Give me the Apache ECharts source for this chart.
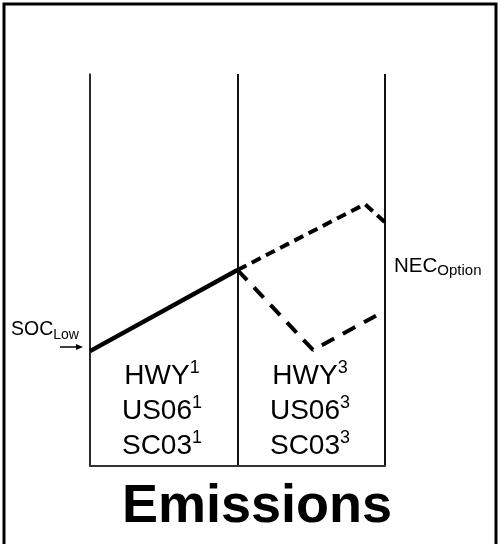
<!DOCTYPE html>
<html>
<head>
<meta charset="utf-8">
<script src="https://cdn.jsdelivr.net/npm/echarts@6/dist/echarts.min.js"></script>
<style>html,body{margin:0;padding:0;background:#fff}#c{width:498px;height:544px}</style>
</head>
<body>
<div id="c"></div>
<script>
// Phase boundaries (x) and SOC trajectories (y, arbitrary SOC units 0..100)
var phaseBounds = [0, 1, 2];
var solidX = [0, 1];
var solidY = [29.3, 50];
var upperX = [1, 1.864, 2];
var upperY = [50, 66.8, 62.2];
var lowerX = [1, 1.512, 1.939];
var lowerY = [50, 29.6, 38.3];
var cycles = ['HWY', 'US06', 'SC03'];
var phaseMarks = ['1', '3'];
var xTitle = 'Emissions';
var startLabel = ['SOC', 'Low'];
var endLabel = ['NEC', 'Option'];

function pairs(xs, ys) { return xs.map(function (x, i) { return [x, ys[i]]; }); }
function blockText(sup) {
  return cycles.map(function (c) { return '{m|' + c + '}{s|' + sup + '}'; }).join('\n');
}
var FONT = '"Liberation Sans", Arial, sans-serif';
var blockRich = {
  m: { fontSize: 28, fontFamily: FONT, lineHeight: 35, fill: '#000' },
  s: { fontSize: 18, fontFamily: FONT, verticalAlign: 'top', fill: '#000' }
};
var startRich = {
  m: { fontSize: 19.5, fontFamily: FONT, lineHeight: 24, fill: '#000' },
  s: { fontSize: 14, fontFamily: FONT, verticalAlign: 'bottom', fill: '#000' }
};
var endRich = {
  m: { fontSize: 20.5, fontFamily: FONT, lineHeight: 24, fill: '#000' },
  s: { fontSize: 15, fontFamily: FONT, verticalAlign: 'bottom', lineHeight: 12, fill: '#000' }
};

var chart = echarts.init(document.getElementById('c'), null, { renderer: 'canvas' });
var option = {
  animation: false,
  backgroundColor: '#fff',
  grid: { left: 90, top: 74, width: 295, height: 392, containLabel: false },
  xAxis: {
    type: 'value', min: phaseBounds[0], max: phaseBounds[2], interval: 1,
    axisLine: { show: true, lineStyle: { color: '#333', width: 2 } },
    axisTick: { show: false }, axisLabel: { show: false },
    splitLine: { show: true, lineStyle: { color: '#111', width: 2 } }
  },
  yAxis: {
    type: 'value', min: 0, max: 100,
    axisLine: { show: true, lineStyle: { color: '#333', width: 1.5 } },
    axisTick: { show: false }, axisLabel: { show: false },
    splitLine: { show: false }
  },
  series: [
    { type: 'line', data: pairs(solidX, solidY), symbol: 'none',
      lineStyle: { color: '#000', width: 4.5 } },
    { type: 'line', data: pairs(upperX, upperY), symbol: 'none',
      lineStyle: { color: '#000', width: 4, type: [10, 6] } },
    { type: 'line', data: pairs(lowerX, lowerY), symbol: 'none',
      lineStyle: { color: '#000', width: 4, type: [14, 10] } }
  ],
  graphic: [
    { type: 'rect', shape: { x: 4, y: 4, width: 492, height: 580 },
      style: { fill: 'none', stroke: '#000', lineWidth: 3 }, silent: true },
    { type: 'text', style: {
        text: blockText(phaseMarks[0]), x: 162, y: 359, align: 'center', verticalAlign: 'top',
        rich: blockRich } },
    { type: 'text', style: {
        text: blockText(phaseMarks[1]), x: 310, y: 359, align: 'center', verticalAlign: 'top',
        rich: blockRich } },
    { type: 'text', style: {
        text: xTitle, x: 257, y: 507, align: 'center', verticalAlign: 'middle',
        font: 'bold 54px ' + FONT, fill: '#000' } },
    { type: 'text', style: {
        text: '{m|' + startLabel[0] + '}{s|' + startLabel[1] + '}', x: 11, y: 318,
        rich: startRich } },
    { type: 'text', style: {
        text: '{m|' + endLabel[0] + '}{s|' + endLabel[1] + '}', x: 394, y: 254,
        rich: endRich } },
    { type: 'line', shape: { x1: 60, y1: 347, x2: 78, y2: 347 },
      style: { stroke: '#000', lineWidth: 1.5 } },
    { type: 'polygon', shape: { points: [[76, 344], [83, 347], [76, 350]] },
      style: { fill: '#000' } }
  ]
};
chart.setOption(option);
</script>
</body>
</html>
